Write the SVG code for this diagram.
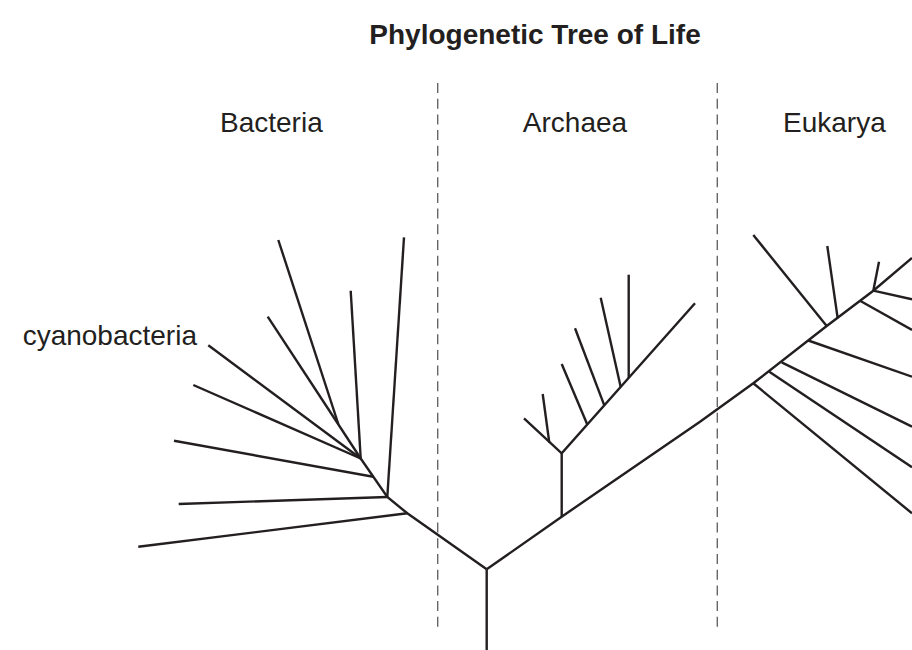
<svg xmlns="http://www.w3.org/2000/svg" width="912" height="650" viewBox="0 0 912 650">
<style>
.t{font-family:"Liberation Sans",Arial,sans-serif;fill:#231f20}
.title{font-size:28px;font-weight:bold}
.lbl{font-size:28px}
.br{stroke:#231f20;stroke-width:2.4;fill:none;stroke-linecap:butt;stroke-linejoin:miter}
.div{stroke:#666;stroke-width:1.4;stroke-dasharray:10 5.7;fill:none}
</style>
<rect width="912" height="650" fill="#fff"/>
<g id="title"><text class="t title" x="535" y="44" text-anchor="middle">Phylogenetic Tree of Life</text></g>
<g id="dividers">
<line class="div" x1="437.7" y1="83" x2="437.7" y2="628"/>
<line class="div" x1="717.3" y1="83" x2="717.3" y2="628"/>
</g>
<g id="bacteria-label"><text class="t lbl" x="220" y="132">Bacteria</text></g>
<g id="archaea-label"><text class="t lbl" x="575" y="132" text-anchor="middle">Archaea</text></g>
<g id="eukarya-label"><text class="t lbl" x="783" y="132">Eukarya</text></g>
<g id="cyanobacteria-label"><text class="t lbl" x="197" y="345" text-anchor="end">cyanobacteria</text></g>
<g id="connectors">
<g id="trunk">
<polyline class="br" points="486.7,650 486.7,569.3"/>
<polyline class="br" points="486.7,569.3 407.3,513.3 387.3,497 360.7,458.5"/>
<polyline class="br" points="486.7,569.3 561.7,516.7 700,421.7 753.3,383.3 826.7,326 873.3,290.7 912,258"/>
</g>
<g id="bacteria">
<line class="br" x1="138.3" y1="546.7" x2="407.3" y2="513.3"/>
<line class="br" x1="178.7" y1="504" x2="387.3" y2="497"/>
<line class="br" x1="174" y1="440.7" x2="373.2" y2="476.7"/>
<line class="br" x1="193.3" y1="385" x2="360.7" y2="458.5"/>
<line class="br" x1="208.3" y1="345.3" x2="360.7" y2="458.5"/>
<line class="br" x1="267.7" y1="316.7" x2="360.7" y2="458.5"/>
<line class="br" x1="278.3" y1="240" x2="338.3" y2="424"/>
<line class="br" x1="350.7" y1="290.7" x2="360.7" y2="458.5"/>
<line class="br" x1="404" y1="237.3" x2="387.3" y2="497"/>
</g>
<g id="archaea">
<line class="br" x1="561.7" y1="516.7" x2="561.7" y2="453.3"/>
<polyline class="br" points="524,418.3 561.7,453.3 695,303.3"/>
<line class="br" x1="542.7" y1="394" x2="549.3" y2="442.7"/>
<line class="br" x1="561.7" y1="364" x2="587.3" y2="424.5"/>
<line class="br" x1="575" y1="328.3" x2="604.3" y2="405.4"/>
<line class="br" x1="600.7" y1="297.7" x2="620.7" y2="386.9"/>
<line class="br" x1="628.7" y1="274.7" x2="628.7" y2="378"/>
</g>
<g id="eukarya">
<line class="br" x1="753.3" y1="235" x2="826.7" y2="326"/>
<line class="br" x1="827.3" y1="246" x2="837.7" y2="318.3"/>
<line class="br" x1="879" y1="261.7" x2="873.3" y2="290.7"/>
<line class="br" x1="873.3" y1="290.7" x2="912" y2="299.3"/>
<line class="br" x1="860" y1="300.8" x2="912" y2="330"/>
<line class="br" x1="808.3" y1="340.5" x2="912" y2="376.7"/>
<line class="br" x1="781.7" y1="362.3" x2="912" y2="426.7"/>
<line class="br" x1="769.3" y1="371.8" x2="912" y2="467.3"/>
<line class="br" x1="753.3" y1="383.3" x2="912" y2="513.3"/>
</g>
</g>
</svg>
